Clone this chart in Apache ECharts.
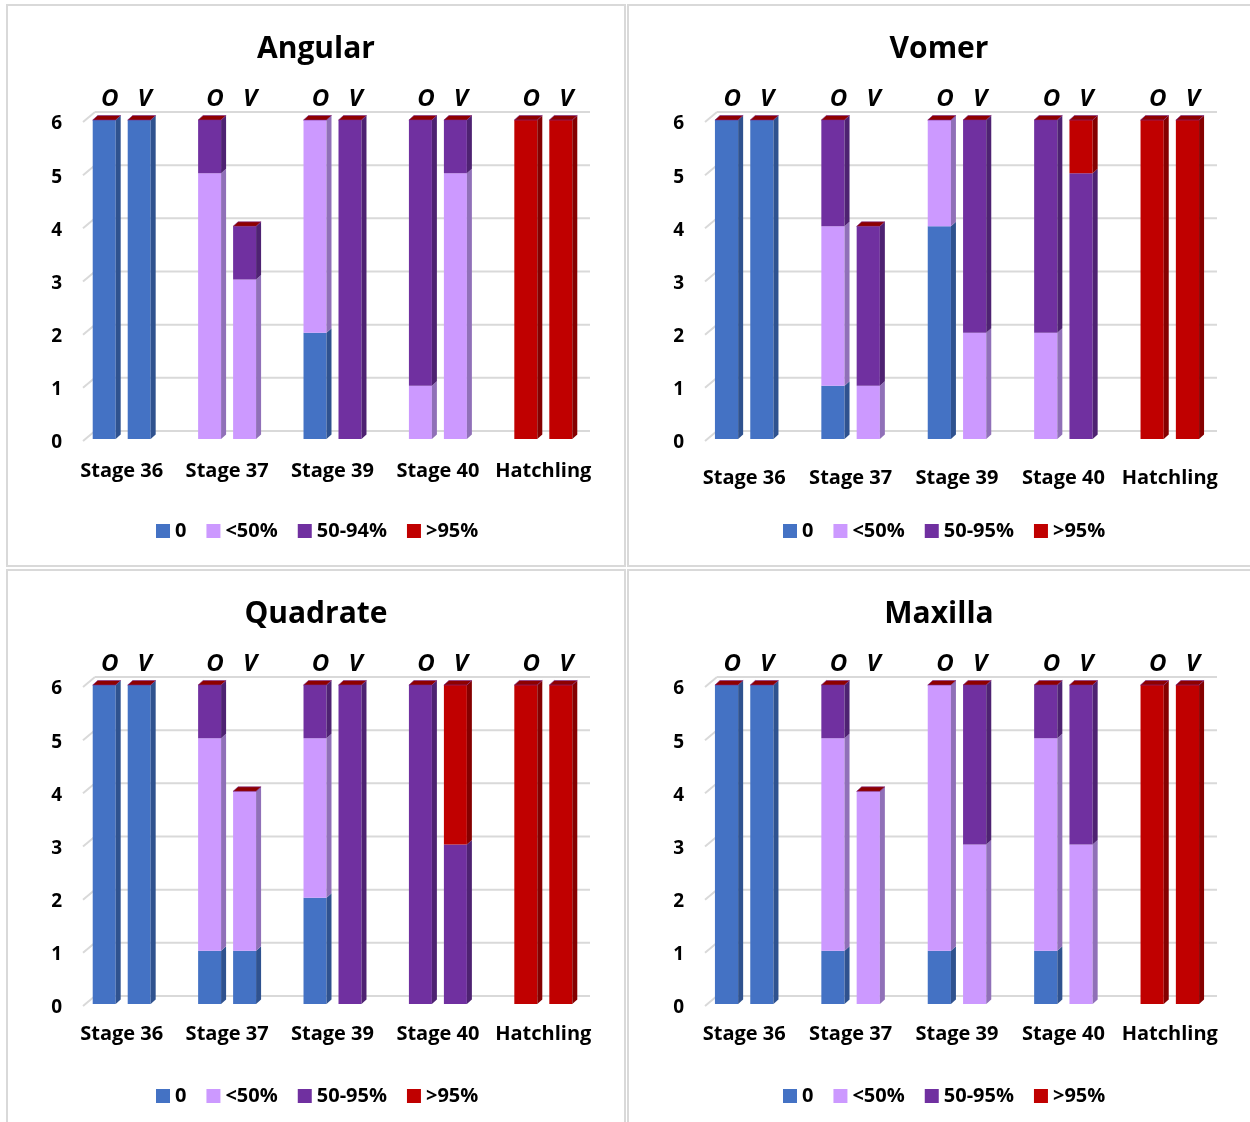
<!DOCTYPE html>
<html>
<head>
<meta charset="utf-8">
<script src="https://cdn.jsdelivr.net/npm/echarts@6/dist/echarts.min.js"></script>
<style>
body{margin:0;background:#fff;width:1250px;height:1122px;overflow:hidden;position:relative;}
.frame{position:absolute;border:2px solid #d9d9d9;box-sizing:border-box;}
.chart{position:absolute;}
</style>
</head>
<body>
<div id="c1" class="chart" style="left:8px;top:5px;width:616px;height:560px"></div>
<div id="c2" class="chart" style="left:628px;top:5px;width:622px;height:560px"></div>
<div id="c3" class="chart" style="left:8px;top:570px;width:616px;height:552px"></div>
<div id="c4" class="chart" style="left:628px;top:570px;width:622px;height:552px"></div>
<div class="frame" style="left:6px;top:4px;width:620px;height:563px"></div>
<div class="frame" style="left:627px;top:4px;width:640px;height:563px"></div>
<div class="frame" style="left:6px;top:569px;width:620px;height:600px"></div>
<div class="frame" style="left:627px;top:569px;width:640px;height:600px"></div>
<script>
var categories = ['Stage 36','Stage 37','Stage 39','Stage 40','Hatchling'];
var pairLabels = ['O','V'];
var yTicks = [0,1,2,3,4,5,6];
var angularLevels = ['0','<50%','50-94%','>95%'];
var otherLevels = ['0','<50%','50-95%','>95%'];
var levelColors = ['#4472C4','#CC99FF','#7030A0','#C00000'];
var sideColors = ['#2F528F','#9070B8','#4E2272','#850000'];
var capColor = '#8E0000';
var font = '"Open Sans", "Noto Sans", sans-serif';

// rows: 0, <50%, 50-9x%, >95%   cols: categories
var angularO  = [[6,0,2,0,0],[0,5,4,1,0],[0,1,0,5,0],[0,0,0,0,6]];
var angularV  = [[6,0,0,0,0],[0,3,0,5,0],[0,1,6,1,0],[0,0,0,0,6]];
var vomerO    = [[6,1,4,0,0],[0,3,2,2,0],[0,2,0,4,0],[0,0,0,0,6]];
var vomerV    = [[6,0,0,0,0],[0,1,2,0,0],[0,3,4,5,0],[0,0,0,1,6]];
var quadrateO = [[6,1,2,0,0],[0,4,3,0,0],[0,1,1,6,0],[0,0,0,0,6]];
var quadrateV = [[6,1,0,0,0],[0,3,0,0,0],[0,0,6,3,0],[0,0,0,3,6]];
var maxillaO  = [[6,1,1,1,0],[0,4,5,4,0],[0,1,0,1,0],[0,0,0,0,6]];
var maxillaV  = [[6,0,0,0,0],[0,4,3,3,0],[0,0,3,3,0],[0,0,0,0,6]];

function makeRender(l){
	return function(params, api){
		var c = api.value(0), base = api.value(1), val = api.value(2), side = api.value(3);
		var last = (l == levelColors.length-1);
		if(val <= 0 && !last) return null;
		var band = api.size([1,0])[0];
		var p0 = api.coord([c, base]);
		var p1 = api.coord([c, base+val]);
		var w = band*0.218;
		var cx = p0[0] + (side ? 1 : -1)*band*0.166;
		var x0 = cx - w/2, x1 = cx + w/2, yb = p0[1], yt = p1[1];
		var dx = 5, dy = 4.5;
		var ch = [];
		if(val > 0){
			ch.push({type:'rect', shape:{x:x0, y:yt, width:w, height:yb-yt}, style:{fill:levelColors[l]}});
			ch.push({type:'polygon', shape:{points:[[x1,yt],[x1+dx,yt-dy],[x1+dx,yb-dy],[x1,yb]]}, style:{fill:sideColors[l]}});
		}
		if(last){
			//top of the stack
			ch.push({type:'polygon', shape:{points:[[x0,yt],[x0+dx,yt-dy],[x1+dx,yt-dy],[x1,yt]]}, style:{fill:capColor, stroke:'#7a2a8a', lineWidth:0.6}});
		}
		return {type:'group', children:ch};
	};
}

//back wall gridlines (shifted up/right like the excel 3d chart)
function renderWall(params, api){
	var cs = params.coordSys;
	var y = api.coord([0, api.value(0)])[1] - 8;
	var xl = cs.x + 26, xr = cs.x + cs.width - 6;
	return {type:'group', children:[
		{type:'line', shape:{x1:xl-12, y1:y+10, x2:xl, y2:y}, style:{stroke:'#d9d9d9', lineWidth:2}},
		{type:'line', shape:{x1:xl, y1:y, x2:xr, y2:y}, style:{stroke:'#d9d9d9', lineWidth:2}}
	]};
}

function buildSeries(levels, oRows, vRows){
	var series = [{type:'custom', silent:true, renderItem:renderWall, data:yTicks.map(function(v){return [v];}), encode:{y:0}}];
	for(var l = 0; l < levels.length; l++){
		var data = [];
		[oRows, vRows].forEach(function(rows, side){
			for(var c = 0; c < categories.length; c++){
				var base = 0;
				for(var k = 0; k < l; k++) base += rows[k][c];
				data.push([c, base, rows[l][c], side]);
			}
		});
		series.push({name:levels[l], type:'custom', xAxisIndex:0, yAxisIndex:0,
			itemStyle:{color:levelColors[l]}, renderItem:makeRender(l), data:data, encode:{x:0, y:1}});
	}
	return series;
}

function draw(id, title, levels, oRows, vRows, left, width, catMargin, legendLeft){
	var chart = echarts.init(document.getElementById(id));
	var option = {
		animation:false,
		title:{text:title, left:'center', top:24, textStyle:{fontFamily:font, fontWeight:'bold', fontSize:30, color:'#000'}},
		legend:{data:levels, icon:'rect', itemWidth:14, itemHeight:14, itemGap:20, left:legendLeft, top:511,
			textStyle:{fontFamily:font, fontWeight:'bold', fontSize:20, color:'#000'}},
		grid:{left:left, top:115, width:width, height:319},
		xAxis:[
			{type:'category', data:categories, axisLine:{show:false}, axisTick:{show:false},
				axisLabel:{interval:0, margin:catMargin, fontFamily:font, fontWeight:'bold', fontSize:20, color:'#000'}},
			{type:'category', position:'top', data:categories, axisLine:{show:false}, axisTick:{show:false},
				axisLabel:{interval:0, margin:9, formatter:function(){return '{pad|}{o|'+pairLabels[0]+'}{v|'+pairLabels[1]+'}';},
					rich:{pad:{width:11}, o:{width:35, align:'center', fontFamily:font, fontWeight:'bold', fontStyle:'italic', fontSize:24, color:'#000'},
						v:{width:35, align:'center', fontFamily:font, fontWeight:'bold', fontStyle:'italic', fontSize:24, color:'#000'}}}}
		],
		yAxis:{type:'value', min:0, max:6, interval:1, splitLine:{show:false}, axisLine:{show:false},
			axisLabel:{margin:7, formatter:'{n|{value}}',
				rich:{n:{padding:[8,0,0,0], fontFamily:font, fontWeight:'bold', fontSize:19, color:'#000'}}}},
		series:buildSeries(levels, oRows, vRows)
	};
	chart.setOption(option);
}

draw('c1', 'Angular',  angularLevels, angularO,  angularV,  61, 527, 22, 143);
draw('c2', 'Vomer',    otherLevels,   vomerO,    vomerV,    63, 532, 29, 150);
draw('c3', 'Quadrate', otherLevels,   quadrateO, quadrateV, 61, 527, 20, 143);
draw('c4', 'Maxilla',  otherLevels,   maxillaO,  maxillaV,  63, 532, 20, 150);
</script>
</body>
</html>
